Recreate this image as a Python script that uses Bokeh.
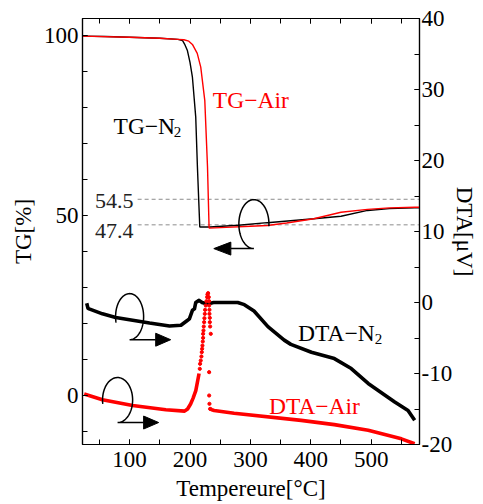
import numpy as np
from bokeh.plotting import figure
from bokeh.models import Range1d, LinearAxis, FixedTicker, CustomJSTickFormatter
from bokeh.core.properties import value
from bokeh.embed import file_html
from bokeh.resources import INLINE

# ---------------- data ----------------
# TG (left axis, %)
tg_n2_temp = [22, 60, 100, 150, 180, 187.5, 191, 195.7, 200, 204, 209.5, 212.3, 216.2, 233, 280, 328, 405, 450, 494, 530, 572, 580]
tg_n2_val = [99.8, 99.7, 99.5, 99.2, 98.9, 98.6, 97.6, 95.8, 92.5, 88.4, 77.3, 63.4, 46.8, 46.8, 47.3, 48.0, 49.1, 49.8, 51.4, 51.9, 52.1, 52.1]
tg_air_temp = [22, 100, 150, 180, 190, 198, 204, 212, 217.8, 224.5, 229, 231.6, 260, 300, 328, 360, 405, 450, 494, 530, 572, 580]
tg_air_val = [99.8, 99.5, 99.2, 98.9, 98.8, 98.4, 97.5, 95.0, 91.2, 81.9, 63.4, 46.5, 46.7, 47.0, 47.2, 47.9, 49.1, 50.9, 51.7, 52.1, 52.3, 52.3]

# DTA (right axis, uV)
dta_n2_temp = [29, 31, 33, 55, 77, 105, 133, 166, 185, 196, 199, 204, 207.4, 209.5, 215, 220, 226, 234, 239, 268, 279, 290, 306, 329, 356, 367, 401, 439, 467, 495, 539, 561, 572]
dta_n2_val = [-0.1, -0.8, -0.9, -1.6, -2.1, -2.5, -2.9, -3.3, -3.2, -2.5, -2.3, -1.1, -0.9, 0.0, 0.3, 0.0, -0.15, -0.1, 0.0, 0.0, 0.0, -0.3, -1.2, -3.4, -5.3, -5.9, -7.0, -7.9, -9.3, -11.4, -14.0, -15.2, -16.6]

dta_air_rise_temp = [24.8, 55, 105, 160, 191, 196, 201, 205, 209.6, 215]
dta_air_rise_val = [-12.9, -13.7, -14.5, -15.1, -15.3, -15.0, -14.3, -13.5, -12.4, -10.0]
dta_air_spike_temp = [216.2, 216.7, 217.8, 218.9, 219.5, 220.1, 220.6, 221.2, 221.7, 221.7, 222.3, 222.8, 223.4, 223.9, 224.5, 225.0, 226.1, 227.3, 228.4, 228.9, 230.0,
                      231.1, 231.7, 231.7, 232.2, 232.2, 232.8, 232.8, 233.3, 234.4, 231.7, 231.7, 232.2, 233.3]
dta_air_spike_val = [-9.34, -8.64, -8.17, -7.60, -6.99, -6.52, -6.06, -5.49, -4.98, -4.41, -3.94, -3.38, -2.77, -2.21, -1.60, -1.03, -0.42, 0.19, 0.75, 1.13, 1.32,
                     0.75, 0.19, -0.42, -1.03, -1.60, -2.16, -2.77, -3.38, -4.41, -9.81, -13.10, -14.27, -14.98]
dta_air_tail_temp = [233.3, 236, 240, 273, 384, 439, 495, 550, 572]
dta_air_tail_val = [-14.98, -15.1, -15.2, -15.6, -16.6, -17.2, -18.0, -19.2, -19.9]

# reference levels
ref_levels = [54.5, 47.4]
ref_labels = ["54.5", "47.4"]

x_major = [100, 200, 300, 400, 500]
x_minor = [50, 100, 150, 200, 250, 300, 350, 400, 450, 500, 550]
tg_major = [0, 50, 100]
tg_minor = [-10, 0, 10, 20, 30, 40, 50, 60, 70, 80, 90, 100]
dta_major = [-20, -10, 0, 10, 20, 30, 40]
dta_minor = [-20, -15, -10, -5, 0, 5, 10, 15, 20, 25, 30, 35, 40]

FONT = "'Liberation Serif', serif"

p = figure(width=483, height=504, x_range=Range1d(22, 580), y_range=Range1d(-13.6, 104.7),
           output_backend="svg", toolbar_location=None,
           min_border_left=82, min_border_right=64, min_border_top=18, min_border_bottom=60)
p.extra_y_ranges = {"dta": Range1d(-20, 40)}
p.xgrid.visible = False
p.ygrid.visible = False
p.outline_line_color = "black"
p.outline_line_width = 1.2


def style_axis(ax):
    ax.axis_line_color = "black"
    ax.axis_line_width = 1.2
    ax.major_tick_in = 5
    ax.major_tick_out = 0
    ax.minor_tick_in = 5
    ax.minor_tick_out = 0
    ax.major_tick_line_color = "black"
    ax.minor_tick_line_color = "black"
    ax.major_label_text_font = FONT
    ax.major_label_text_font_size = "23px"
    ax.major_label_text_color = "black"
    ax.axis_label_text_font = FONT
    ax.axis_label_text_font_size = "23px"
    ax.axis_label_text_font_style = "normal"
    ax.axis_label_text_color = "black"


xa = p.xaxis[0]
style_axis(xa)
xa.ticker = FixedTicker(ticks=x_major, minor_ticks=x_minor)
xa.major_label_standoff = 7
xa.axis_label = "Tempereure[°C]"
xa.axis_label_standoff = 6

ya = p.yaxis[0]
style_axis(ya)
ya.ticker = FixedTicker(ticks=tg_major, minor_ticks=tg_minor)
ya.major_label_standoff = 4
ya.axis_label = "TG[%]"
ya.axis_label_standoff = 5

ra = LinearAxis(y_range_name="dta")
style_axis(ra)
ra.ticker = FixedTicker(ticks=dta_major, minor_ticks=dta_minor)
ra.major_label_overrides = {v: str(v) for v in dta_major}
ra.major_label_standoff = 2
ra.axis_label = "DTA[μV]"
ra.axis_label_standoff = -3
p.add_layout(ra, "right")

ta = LinearAxis()
style_axis(ta)
ta.ticker = FixedTicker(ticks=x_major, minor_ticks=x_minor)
ta.formatter = CustomJSTickFormatter(code="return ''")
ta.major_label_text_font_size = "0px"
ta.major_label_standoff = 0
p.add_layout(ta, "above")

# reference dashed lines
p.segment(x0=[113.3] * 2, y0=ref_levels, x1=[580] * 2, y1=ref_levels,
          line_color="#8c8c8c", line_width=1, line_dash="4 3")
p.text(x=[106.6, 106.6], y=[53.9, 45.8], text=ref_labels, text_align="right", text_baseline="middle",
       text_font=value(FONT), text_font_size=value("22px"), text_color="#222222")

# TG curves
p.line(tg_n2_temp, tg_n2_val, line_color="black", line_width=1.4)
p.line(tg_air_temp, tg_air_val, line_color="red", line_width=1.4)

# DTA curves
p.line(dta_n2_temp, dta_n2_val, y_range_name="dta", line_color="black", line_width=3.6, line_join="round")
p.line(dta_air_rise_temp, dta_air_rise_val, y_range_name="dta", line_color="red", line_width=3.6, line_join="round")
p.scatter(dta_air_spike_temp, dta_air_spike_val, y_range_name="dta", size=3.2, color="red")
p.line(dta_air_tail_temp, dta_air_tail_val, y_range_name="dta", line_color="red", line_width=3.6, line_join="round")

# labels (y = vertical centre of the capitals)
def lab(x, y, t, color, size="23.5px"):
    p.text(x=[x], y=[y], text=[t], text_align="left", text_baseline="middle",
           text_font=value(FONT), text_font_size=value(size), text_color=color)

lab(237.8, 82.2, "TG\u2212Air", "red")
lab(73.4, 74.8, "TG\u2212N", "black")
lab(173.0, 73.1, "2", "black", "15px")
lab(378.8, 17.4, "DTA\u2212N", "black")
lab(506.0, 15.6, "2", "black", "15px")
lab(330.7, -2.8, "DTA\u2212Air", "red")

# curly arrows (loop + arrow)
def loop(cx, cy, rx, ry, a0, a1, x_end, tip):
    t = np.radians(np.linspace(a0, a1, 90))
    xs = list(cx + rx * np.cos(t))
    ys = list(cy + ry * np.sin(t))
    by = cy - ry
    xs += [x_end]
    ys += [by]
    p.line(xs, ys, line_color="black", line_width=1.5)
    h = 1.8
    p.patch([x_end, x_end, tip], [by - h, by + h, by], color="black")

loop(305.8, 47.6, 24.9, 6.8, -5, 270, 267.6, 239.4)
loop(100.0, 21.9, 23.2, 6.4, 195, -90, 143.2, 168.0)
loop(80.1, -1.25, 24.9, 6.25, 190, -90, 123.2, 148.1)

open("out.html", "w").write(file_html(p, INLINE))
